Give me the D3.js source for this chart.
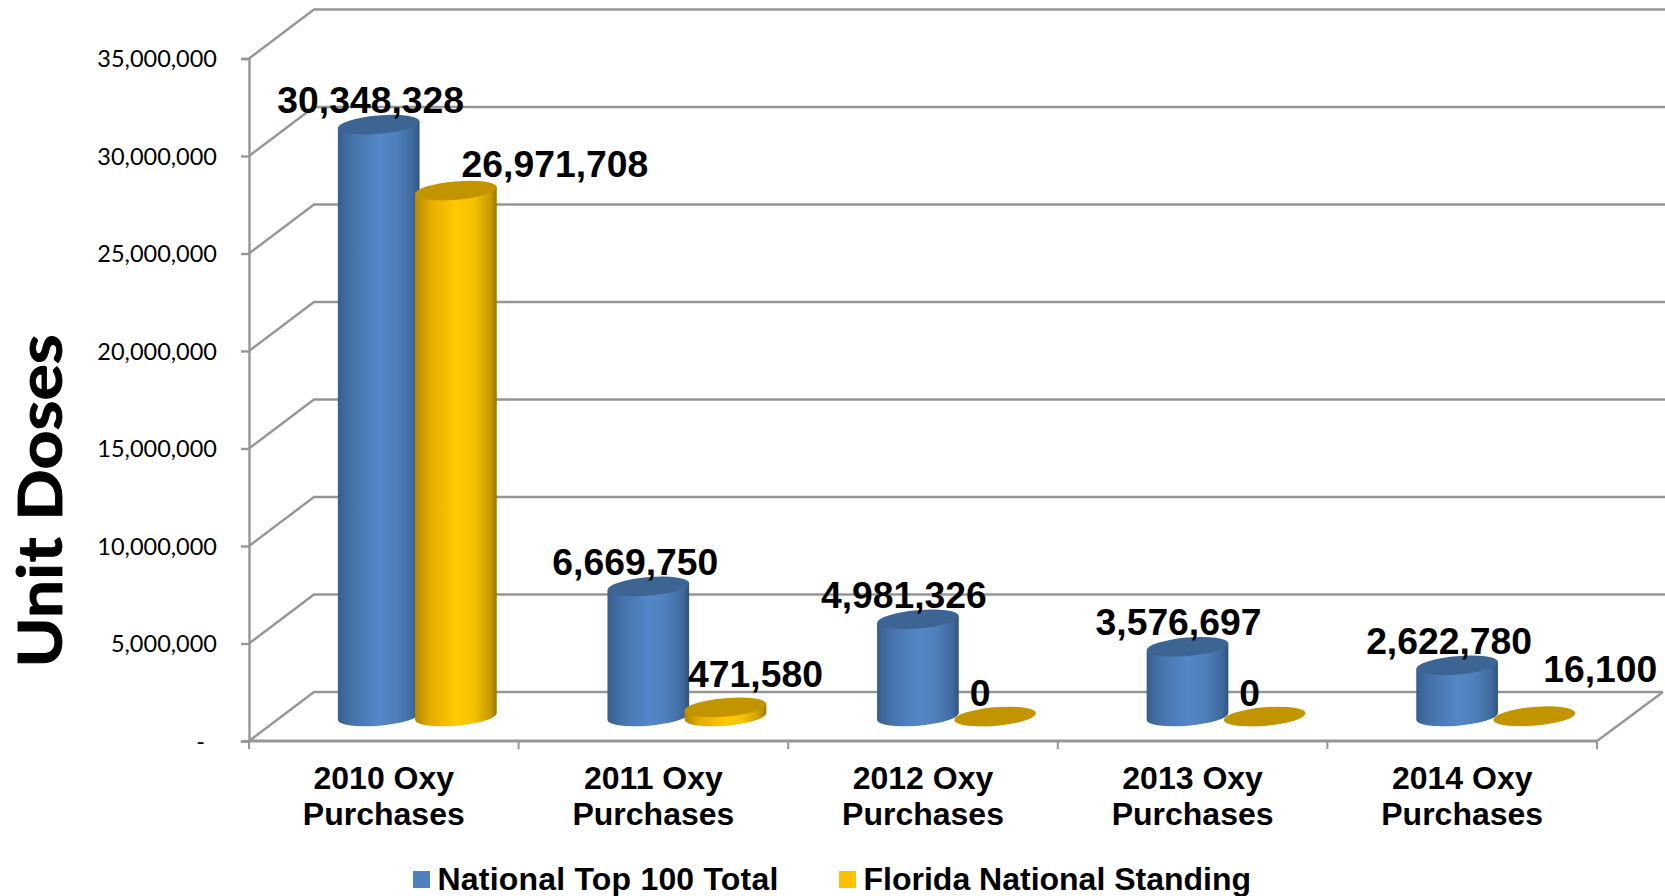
<!DOCTYPE html>
<html><head><meta charset="utf-8">
<script src="https://cdnjs.cloudflare.com/ajax/libs/d3/7.9.0/d3.min.js"></script>
<style>html,body{margin:0;padding:0;background:#fff;overflow:hidden}svg{display:block}</style>
</head><body><div id="c"></div>
<script>
const categories = ["2010 Oxy Purchases","2011 Oxy Purchases","2012 Oxy Purchases","2013 Oxy Purchases","2014 Oxy Purchases"];
const national = [30348328,6669750,4981326,3576697,2622780];
const florida = [26971708,471580,0,0,16100];
const seriesNames = ["National Top 100 Total","Florida National Standing"];
const yTicks = [0,5000000,10000000,15000000,20000000,25000000,30000000,35000000];
// label nudges relative to each cylinder top (layout only)
const nationalNudge = [[-8,-12],[-13,-11],[-14,-11],[-9,-12],[-8,-11]];
const floridaNudge = [[99,-14],[30,-20],[-15,-11],[-15,-11],[66,-34]];

const W=1665,H=896, depthX=65, depthY=49;
const svg=d3.select("#c").append("svg").attr("width",W).attr("height",H);
const x=d3.scaleBand().domain(categories).range([249,1597]).padding(0);
const y=d3.scaleLinear().domain([0,35000000]).range([741,58.5]);
const GRID="#969696";

const defs=svg.append("defs");
function grad(id,stops){const g=defs.append("linearGradient").attr("id",id);
  stops.forEach(([o,c])=>g.append("stop").attr("offset",o).attr("stop-color",c));}
grad("gb",[[0,"#375f8f"],[.18,"#4673ab"],[.5,"#5487c8"],[.72,"#4f7fbc"],[.92,"#3f6a9e"],[1,"#2f5380"]]);
grad("gy",[[0,"#b08900"],[.18,"#e3ac00"],[.5,"#ffca00"],[.72,"#f6c000"],[.92,"#c89b00"],[1,"#987700"]]);

// walls
const grid=svg.append("g").attr("fill","none").attr("stroke",GRID).attr("stroke-width",2.4);
yTicks.forEach(t=>{
  const yy=y(t);
  grid.append("path").attr("d",d3.line()([[249,yy],[249+depthX,yy-depthY],[t===0?1663:W,yy-depthY]]));
});
grid.append("path").attr("d",d3.line()([[1597,741],[1663,692]]));

// axes
const yAxis=d3.axisLeft(y).tickValues(yTicks).tickSize(8).tickPadding(24)
  .tickFormat(d=>d===0?"-":d3.format(",")(d));
const gy=svg.append("g").attr("transform","translate(249,0)").call(yAxis);
gy.selectAll("path,line").attr("stroke",GRID).attr("stroke-width",2.4);
gy.selectAll("text").attr("font-family","Lato").attr("font-size",23.5).attr("fill","#000")
  .attr("dy","0.36em").filter(d=>d===0).attr("dx",-12);
const xAxis=d3.axisBottom(x).tickValues([]).tickSize(0);
const gx=svg.append("g").attr("transform","translate(0,741)").call(xAxis);
gx.select("path").attr("stroke",GRID).attr("stroke-width",3).attr("d","M249,0H1597");
gx.selectAll("line.tk").data(d3.range(categories.length+1)).enter().append("line")
  .attr("class","tk").attr("x1",i=>x.range()[0]+i*x.step()).attr("x2",i=>x.range()[0]+i*x.step())
  .attr("y1",0).attr("y2",8).attr("stroke",GRID).attr("stroke-width",2);

// category labels
categories.forEach(c=>{
  const [a,b]=[c.slice(0,8),c.slice(9)];
  const t=svg.append("text").attr("text-anchor","middle").attr("font-family","Liberation Sans")
    .attr("font-weight","bold").attr("font-size",32).attr("fill","#000");
  const cx=x(c)+x.bandwidth()/2;
  t.append("tspan").attr("x",cx).attr("y",789).text(a);
  t.append("tspan").attr("x",cx).attr("y",825).text(b);
});

// cylinders
const rx=41, ry=9.2, tilt=-5, rad=tilt*Math.PI/180;
const off=38.6, baseDX=depthX/2+1, baseDY=depthY/2;
function cyl(cat,v,side,fill,top,edge){
  const cx=x(cat)+x.bandwidth()/2+baseDX+side*off;
  const by=y(0)-baseDY, ty=y(v)-baseDY;
  const dx=rx*Math.cos(rad), dy=rx*Math.sin(rad);
  const g=svg.append("g");
  g.append("path").attr("fill",v>0?`url(#${fill})`:edge)
    .attr("d",`M${cx-dx},${ty-dy}L${cx-dx},${by-dy}A${rx},${ry} ${tilt} 0 0 ${cx+dx},${by+dy}L${cx+dx},${ty+dy}Z`);
  g.append("ellipse").attr("cx",cx).attr("cy",ty).attr("rx",rx).attr("ry",ry)
    .attr("transform",`rotate(${tilt} ${cx} ${ty})`).attr("fill",top);
  return [cx,ty];
}
const tops=categories.map((c,i)=>[
  cyl(c,national[i],-1,"gb","#3d6594","#5487c8"),
  cyl(c,florida[i],1,"gy","#c29400","#e8b000")]);

// data labels
function lab(p,n,v){
  svg.append("text").attr("x",p[0]+n[0]).attr("y",p[1]+n[1]).attr("text-anchor","middle")
   .attr("font-family","Liberation Sans").attr("font-weight","bold").attr("font-size",37.3)
   .attr("fill","#000").text(d3.format(",")(v));
}
categories.forEach((c,i)=>{lab(tops[i][0],nationalNudge[i],national[i]);lab(tops[i][1],floridaNudge[i],florida[i]);});

// y title
svg.append("text").attr("transform","translate(62,501) rotate(-90) scale(1,0.9)").attr("text-anchor","middle")
  .attr("font-family","Lato").attr("font-weight","bold").attr("font-size",68).attr("fill","#000")
  .attr("stroke","#000").attr("stroke-width",1).text("Unit Doses");

// legend
const legendX=[413,839], legendSpacing=[0.2,0];
seriesNames.forEach((s,i)=>{
  svg.append("rect").attr("x",legendX[i]).attr("y",871).attr("width",17).attr("height",17)
    .attr("fill",["#4f81bd","#ffc000"][i]);
  svg.append("text").attr("x",legendX[i]+24.5).attr("y",890).attr("font-family","Liberation Sans")
    .attr("letter-spacing",legendSpacing[i])
    .attr("font-weight","bold").attr("font-size",32).attr("fill","#000").text(s);
});
</script></body></html>
